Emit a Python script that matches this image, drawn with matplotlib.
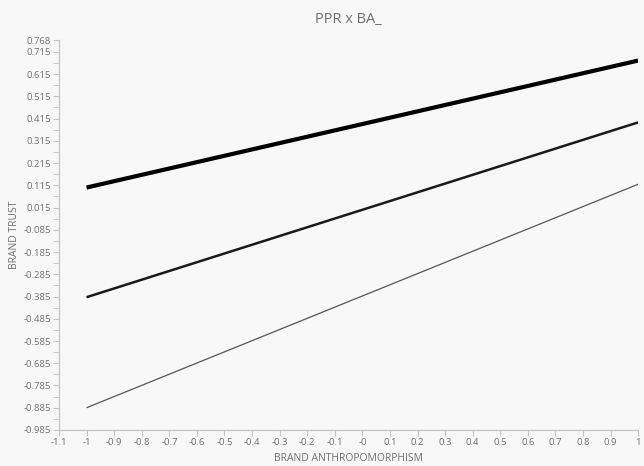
import matplotlib
matplotlib.use("Agg")
import matplotlib.pyplot as plt
import numpy as np

plt.rcParams['font.family'] = ['Open Sans', 'DejaVu Sans']

x_vals = [-1, 1]
high_series = [0.105, 0.676]
mid_series = [-0.388, 0.398]
low_series = [-0.885, 0.120]

x_ticks = [-1.1, -1, -0.9, -0.8, -0.7, -0.6, -0.5, -0.4, -0.3, -0.2, -0.1, 0, 0.1, 0.2, 0.3, 0.4, 0.5, 0.6, 0.7, 0.8, 0.9, 1]
x_tick_labels = ['-1.1', '-1', '-0.9', '-0.8', '-0.7', '-0.6', '-0.5', '-0.4', '-0.3', '-0.2', '-0.1', '-0', '0.1', '0.2', '0.3', '0.4', '0.5', '0.6', '0.7', '0.8', '0.9', '1']
y_ticks = [-0.985, -0.885, -0.785, -0.685, -0.585, -0.485, -0.385, -0.285, -0.185, -0.085, 0.015, 0.115, 0.215, 0.315, 0.415, 0.515, 0.615, 0.715, 0.768]
y_tick_labels = ['-0.985', '-0.885', '-0.785', '-0.685', '-0.585', '-0.485', '-0.385', '-0.285', '-0.185', '-0.085', '0.015', '0.115', '0.215', '0.315', '0.415', '0.515', '0.615', '0.715', '0.768']
y_minor = [-0.935, -0.835, -0.735, -0.635, -0.535, -0.435, -0.335, -0.235, -0.135, -0.035, 0.065, 0.165, 0.265, 0.365, 0.465, 0.565, 0.665]

bg = '#f8f8f8'
grey = '#707070'
axis_c = '#c4c4c4'

fig = plt.figure(figsize=(6.44, 4.66), dpi=100, facecolor=bg)
ax = fig.add_axes([0.0916, 0.0773, 0.8994, 0.8367], facecolor=bg)

ax.plot(x_vals, high_series, color='#000000', lw=3.0, solid_capstyle='butt')
ax.plot(x_vals, mid_series, color='#1a1a1a', lw=1.8, solid_capstyle='butt')
ax.plot(x_vals, low_series, color='#555555', lw=0.9, solid_capstyle='butt')

ax.set_xlim(-1.1, 1.0)
ax.set_ylim(-0.985, 0.768)
ax.set_xticks(x_ticks)
ax.set_xticklabels(x_tick_labels)
ax.set_yticks(y_ticks)
ax.set_yticklabels(y_tick_labels)
ax.set_yticks(y_minor, minor=True)

for s in ['top', 'right']:
    ax.spines[s].set_visible(False)
for s in ['left', 'bottom']:
    ax.spines[s].set_color(axis_c)
    ax.spines[s].set_linewidth(0.9)

ax.tick_params(axis='both', which='major', length=4, color=axis_c, labelcolor=grey, labelsize=6.8, pad=2)
ax.tick_params(axis='y', which='minor', length=4, color=axis_c)

ax.set_title('PPR x BA_', color=grey, fontsize=10.5, pad=12)
ax.set_xlabel('BRAND ANTHROPOMORPHISM', color=grey, fontsize=7.5, labelpad=4, loc='center')
ax.set_ylabel('BRAND TRUST', color=grey, fontsize=7.5, labelpad=2)

fig.savefig('out.png', dpi=100, facecolor=bg)
